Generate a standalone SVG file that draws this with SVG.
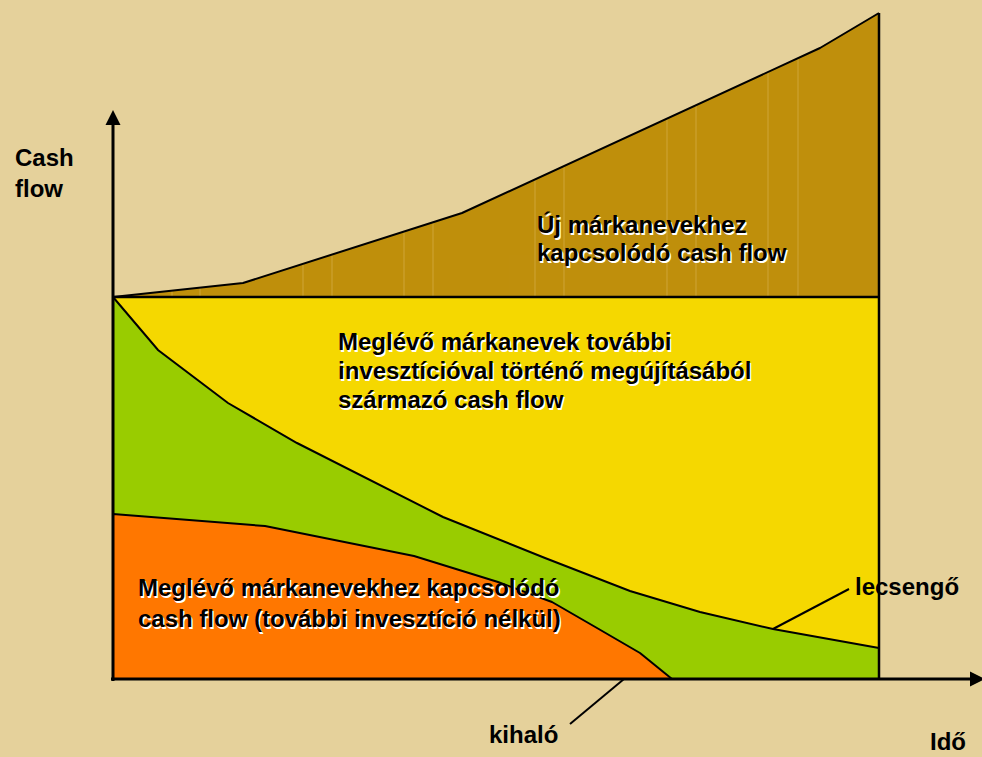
<svg xmlns="http://www.w3.org/2000/svg" width="982" height="757" viewBox="0 0 982 757">
<defs>
<style>
.bg{fill:#E5D19B}
.area{stroke:#000;stroke-width:2;stroke-linejoin:round}
.grid{stroke:#D6AE4A;stroke-width:1;opacity:0.7}
.ax{stroke:#000;stroke-width:3;fill:none}
.lead{stroke:#000;stroke-width:2;fill:none}
.t{font-family:"Liberation Sans",Arial,sans-serif;font-weight:bold;font-size:24px;fill:#000}
.sh{font-family:"Liberation Sans",Arial,sans-serif;font-weight:bold;font-size:24px;fill:#fff}
</style>
<clipPath id="brownClip"><polygon points="113,297 243,283 462,213 820,48 879,13 879,297"/></clipPath>
</defs>
<rect class="bg" x="0" y="0" width="982" height="757"/>

<g id="new-brands">
<polygon fill="#BF8F0C" points="113,297 243,283 462,213 820,48 879,13 879,297"/>
<g clip-path="url(#brownClip)">
<path class="grid" d="M172,297V285 M200,297V280 M303,297V258 M332,297V249 M404,297V226 M433,297V217 M535,297V174 M564,297V161 M667,297V113 M696,297V100 M768,297V67 M798,297V53"/>
</g>
<polyline points="113,297 243,283 462,213 820,48 879,13" fill="none" stroke="#000" stroke-width="2" stroke-linejoin="round"/>
<text class="sh" x="538.5" y="234.5">Új márkanevekhez</text>
<text class="t" x="537" y="233">Új márkanevekhez</text>
<text class="sh" x="538.5" y="262.5">kapcsolódó cash flow</text>
<text class="t" x="537" y="261">kapcsolódó cash flow</text>
</g>

<g id="renewed-brands">
<rect class="area" fill="#F5D800" x="113" y="297" width="766" height="382"/>
<text class="sh" x="339.5" y="351.5">Meglévő márkanevek további</text>
<text class="t" x="338" y="350">Meglévő márkanevek további</text>
<text class="sh" x="339.5" y="380.5">invesztícióval történő megújításából</text>
<text class="t" x="338" y="379">invesztícióval történő megújításából</text>
<text class="sh" x="339.5" y="409.5">származó cash flow</text>
<text class="t" x="338" y="408">származó cash flow</text>
</g>

<g id="fading">
<polygon fill="#99CC00" points="113,297 158,350 228,403 297,443 443,517 545,558 630,591 700,612 773,629 879,648 879,679 113,679"/>
<polyline points="113,297 158,350 228,403 297,443 443,517 545,558 630,591 700,612 773,629 879,648" fill="none" stroke="#000" stroke-width="2"/>
</g>

<g id="dying">
<polygon class="area" fill="#FF7700" points="113,514 265,526 414,556 498,582 552,602 597,628 640,653 672,679 113,679"/>
<text class="sh" x="139.5" y="597.5">Meglévő márkanevekhez kapcsolódó</text>
<text class="t" x="138" y="596">Meglévő márkanevekhez kapcsolódó</text>
<text class="sh" x="139.5" y="628.5">cash flow (további invesztíció nélkül)</text>
<text class="t" x="138" y="627">cash flow (további invesztíció nélkül)</text>
</g>

<g id="frame">
<line x1="879" y1="13" x2="879" y2="679" stroke="#000" stroke-width="2.5"/>
<line x1="113" y1="297" x2="879" y2="297" stroke="#000" stroke-width="2.5"/>
</g>

<g id="connectors">
<line class="ax" x1="113" y1="123" x2="113" y2="681"/>
<polygon points="113,110 105.5,125 120.5,125" fill="#000"/>
<line class="ax" x1="111" y1="679" x2="972" y2="679"/>
<polygon points="985,679 970,671.5 970,686.5" fill="#000"/>
<line class="lead" x1="773" y1="629" x2="849" y2="589"/>
<line class="lead" x1="624" y1="679" x2="570" y2="724"/>
</g>

<g id="labels">
<text class="t" x="15" y="166">Cash</text>
<text class="t" x="15" y="197">flow</text>
<text class="t" x="855" y="595">lecsengő</text>
<text class="t" x="489" y="743">kihaló</text>
<text class="t" x="930" y="750">Idő</text>
</g>
</svg>
